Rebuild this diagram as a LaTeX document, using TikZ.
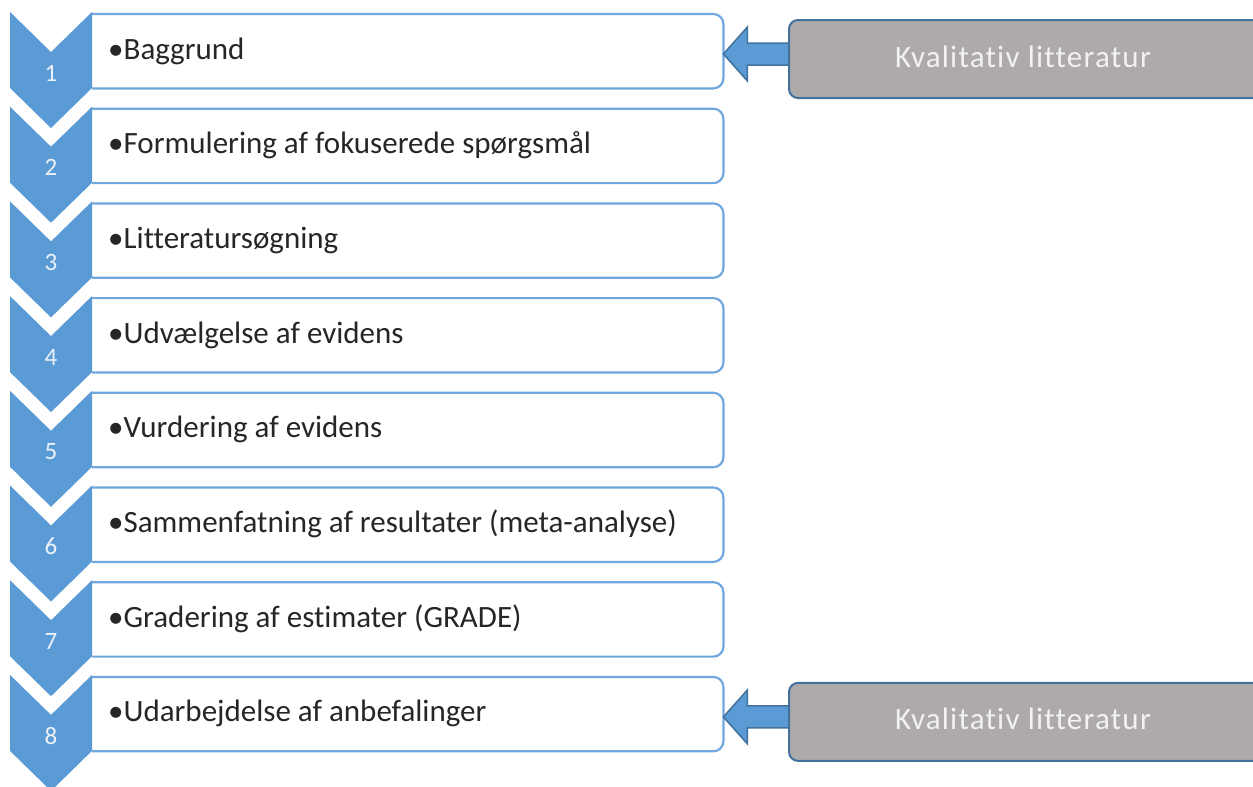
\documentclass[tikz,border=0pt]{standalone}
\usepackage{fontspec}
\setmainfont[Ligatures=CommonOff]{Carlito}
\definecolor{chev}{RGB}{91,155,213}
\definecolor{boxline}{RGB}{112,167,222}
\definecolor{darkb}{RGB}{65,113,156}
\definecolor{grayf}{RGB}{174,170,170}
\definecolor{numc}{RGB}{236,242,250}
\definecolor{gtext}{RGB}{242,242,242}
\begin{document}
\begin{tikzpicture}[x=1pt,y=-1pt,
  stepbox/.style={draw=none, fill=white, minimum width=631pt, minimum height=74pt,
    anchor=north west, inner sep=0pt},
  stepborder/.style={draw=boxline, line width=2.2pt, rounded corners=10pt},
  chevshape/.style={fill=chev, draw=none},
  numlabel/.style={text=numc, font=\fontsize{25}{25}\selectfont, inner sep=0pt},
  steptext/.style={anchor=base west, font=\fontsize{31}{34}\selectfont, text=black!85, inner sep=0pt},
  graybox/.style={draw=darkb, line width=2pt, fill=grayf, rounded corners=9pt,
    minimum width=490pt, minimum height=78pt, anchor=north west, inner sep=0pt},
  graytext/.style={anchor=base, text=gtext, inner sep=0pt,
    font=\fontsize{31}{34}\selectfont\addfontfeature{LetterSpace=4}},
  blockarrow/.style={fill=chev, draw=darkb, line width=1.5pt, line join=miter}
]
\useasboundingbox (0,0) rectangle (1253,787);
\begin{scope}
\clip (0,0) rectangle (1253,787);
\foreach \i/\t [count=\n] in {0/Baggrund,
  1/Formulering af fokuserede spørgsmål,
  2/Litteratursøgning,
  3/Udvælgelse af evidens,
  4/Vurdering af evidens,
  5/Sammenfatning af resultater (meta-analyse),
  6/Gradering af estimater (GRADE),
  7/Udarbejdelse af anbefalinger}{
  \pgfmathsetmacro{\yt}{12+94.7*\i}
  \node[stepbox] (box\i) at (92,\yt+2) {};
  \draw[stepborder] (box\i.north west) -- (box\i.north east) -- (box\i.south east)
     -- (box\i.south west);
  \fill[chevshape] (10,\yt) -- (51,\yt+40) -- (92,\yt) -- (92,\yt+76)
     -- (51,\yt+116) -- (10,\yt+76) -- cycle;
  \node[numlabel] (num\i) at (51,\yt+61) {\n};
  \node[steptext] (txt\i) at (108,\yt+47) {•\t};
}
\foreach \i in {0,7}{
  \pgfmathsetmacro{\yt}{12+94.7*\i}
  \coordinate (tip\i) at (box\i.east |- 0,\yt+42);
  \draw[blockarrow] (tip\i) -- ++(24,-27) -- ++(0,16) -- ++(48,0) -- ++(0,22)
     -- ++(-48,0) -- ++(0,16) -- cycle;
  \node[graybox] (g\i) at (788,\yt+7) {};
  \node[graytext] (gt\i) at (1023,\yt+55) {Kvalitativ litteratur};
}
\end{scope}
\end{tikzpicture}
\end{document}
